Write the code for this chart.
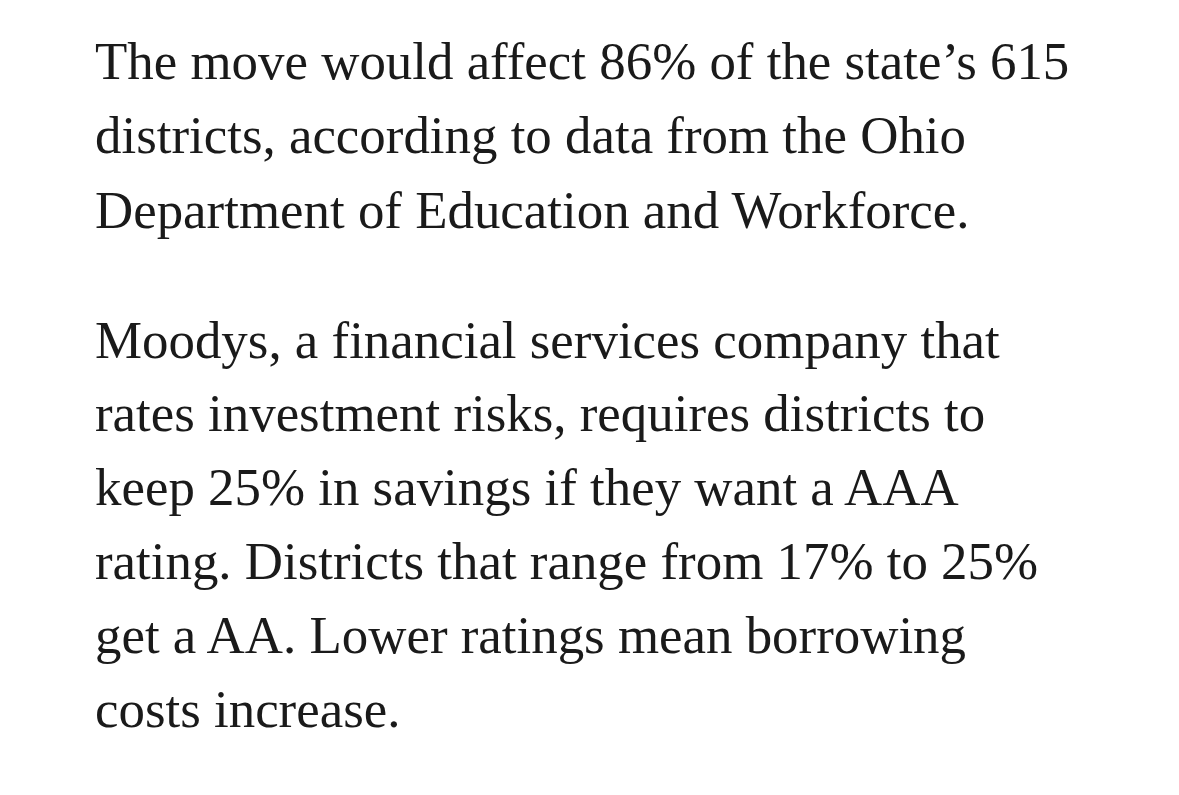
<!DOCTYPE html>
<html><head><meta charset="utf-8">
<script src="https://cdn.jsdelivr.net/npm/chart.js@4"></script>
<style>
html,body{margin:0;padding:0;background:#fff;width:1179px;height:795px;overflow:hidden}
#t{position:absolute;left:95px;top:0;font-family:"Liberation Serif","DejaVu Serif",serif;color:#1a1a1a;font-size:47px}
.l{position:absolute;left:0;white-space:nowrap;line-height:1}
</style></head><body>
<div id="t"></div>
<script>
const para1 = ["The move would affect 86% of the state’s 615","districts, according to data from the Ohio","Department of Education and Workforce."];
const para2 = ["Moodys, a financial services company that","rates investment risks, requires districts to","keep 25% in savings if they want a AAA","rating. Districts that range from 17% to 25%","get a AA. Lower ratings mean borrowing","costs increase."];
const baselines1=[76,150,225], baselines2=[355,428,502,576,650,724];
const t=document.getElementById('t');
function add(lines,bases){lines.forEach((s,i)=>{const d=document.createElement('div');d.className='l';d.textContent=s;d.style.top=(bases[i]-36)+'px';t.appendChild(d);});}
add(para1,baselines1);add(para2,baselines2);
// stretch line 1 to reference width 975px for scale
const first=t.firstChild;const w=first.getBoundingClientRect().width;
const k=975/w;t.style.fontSize=(47*k).toFixed(1)+'px';
[...t.children].forEach((d,i)=>{const b=i<3?baselines1[i]:baselines2[i-3];d.style.top=(b-36*k)+'px';});
</script>
</body></html>
